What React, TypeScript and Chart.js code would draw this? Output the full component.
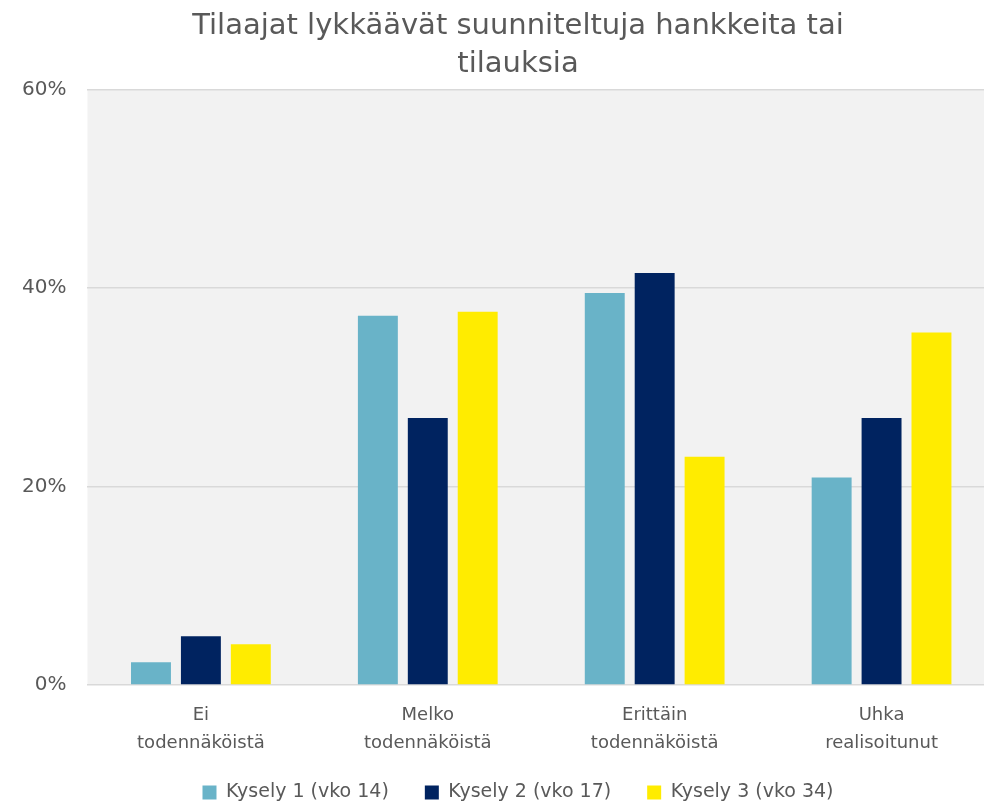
import React, { useEffect, useRef } from "react";
import { Chart, registerables } from "chart.js";

Chart.register(...registerables);

const titleLines = ["Tilaajat lykkäävät suunniteltuja hankkeita tai", "tilauksia"];
const categories = [
  ["Ei", "todennäköistä"],
  ["Melko", "todennäköistä"],
  ["Erittäin", "todennäköistä"],
  ["Uhka", "realisoitunut"],
];
const seriesNames = ["Kysely 1 (vko 14)", "Kysely 2 (vko 17)", "Kysely 3 (vko 34)"];
const kysely1 = [2.3, 37.2, 39.5, 20.9];
const kysely2 = [4.9, 26.9, 41.5, 26.9];
const kysely3 = [4.1, 37.6, 23.0, 35.5];
const seriesColors = ["#69B3C8", "#002360", "#FFEC00"];
const yTicks = [0, 20, 40, 60];

const FONT = "'DejaVu Sans', sans-serif";
const TEXT = "#595959";

const plotBg = {
  id: "plotBg",
  beforeDraw(chart: any) {
    const { ctx, chartArea } = chart;
    if (!chartArea) return;
    ctx.save();
    ctx.fillStyle = "#F2F2F2";
    ctx.fillRect(chartArea.left, chartArea.top, chartArea.right - chartArea.left, chartArea.bottom - chartArea.top);
    ctx.restore();
  },
};

// widen the x-axis label clip box after layout so two-line labels are not cut
const unclipX = {
  id: "unclipX",
  afterLayout(chart: any) {
    const x = chart.scales.x;
    if (x) x.bottom = x.top + 120;
  },
};

export default function App() {
  const ref = useRef<HTMLCanvasElement>(null);
  useEffect(() => {
    if (!ref.current) return;
    const values = [kysely1, kysely2, kysely3];
    const chart = new Chart(ref.current, {
      type: "bar",
      data: {
        labels: categories,
        datasets: seriesNames.map((name, i) => ({
          label: name,
          data: values[i],
          backgroundColor: seriesColors[i],
          borderWidth: 0,
          categoryPercentage: 0.66,
          barPercentage: 0.8,
          yAxisID: "y",
        })),
      },
      options: {
        responsive: false,
        animation: false,
        maintainAspectRatio: false,
        layout: { padding: { left: 1, right: 0, top: 4, bottom: 0 } },
        plugins: {
          title: {
            display: true,
            text: titleLines,
            color: TEXT,
            font: { family: FONT, size: 29, weight: "normal" as any, lineHeight: 1.3 },
            padding: { top: 4, bottom: 6 },
          },
          legend: {
            position: "bottom",
            labels: {
              color: TEXT,
              font: { family: FONT, size: 19 },
              boxWidth: 14,
              boxHeight: 14,
              padding: 36,
            },
          },
          tooltip: { enabled: false },
        },
        scales: {
          x: {
            grid: { display: false },
            border: { display: false },
            ticks: { color: TEXT, font: { family: FONT, size: 18, lineHeight: 1.55 }, padding: 8, maxRotation: 0 },
            afterFit(scale: any) {
              scale.height = 62;
            },
          },
          y: {
            min: 0,
            max: 60,
            afterBuildTicks(scale: any) {
              scale.ticks = yTicks.map((v) => ({ value: v }));
            },
            grid: { color: "#D9D9D9", lineWidth: 1.5, drawTicks: false },
            border: { display: false },
            ticks: {
              color: TEXT,
              font: { family: FONT, size: 20 },
              padding: 21,
              callback: (v: any) => v + "%",
            },
          },
          yRight: {
            position: "right",
            min: 0,
            max: 60,
            grid: { display: false, drawTicks: false },
            border: { display: false },
            ticks: { display: false },
            afterFit(scale: any) {
              scale.width = 40;
            },
          },
        },
      },
      plugins: [plotBg, unclipX],
    });
    return () => chart.destroy();
  }, []);
  return (
    <div style={{ position: "absolute", left: 0, top: 0, width: 984, height: 807, overflow: "hidden", background: "#fff" }}>
      <canvas ref={ref} width={1035} height={812} style={{ display: "block" }} />
    </div>
  );
}
